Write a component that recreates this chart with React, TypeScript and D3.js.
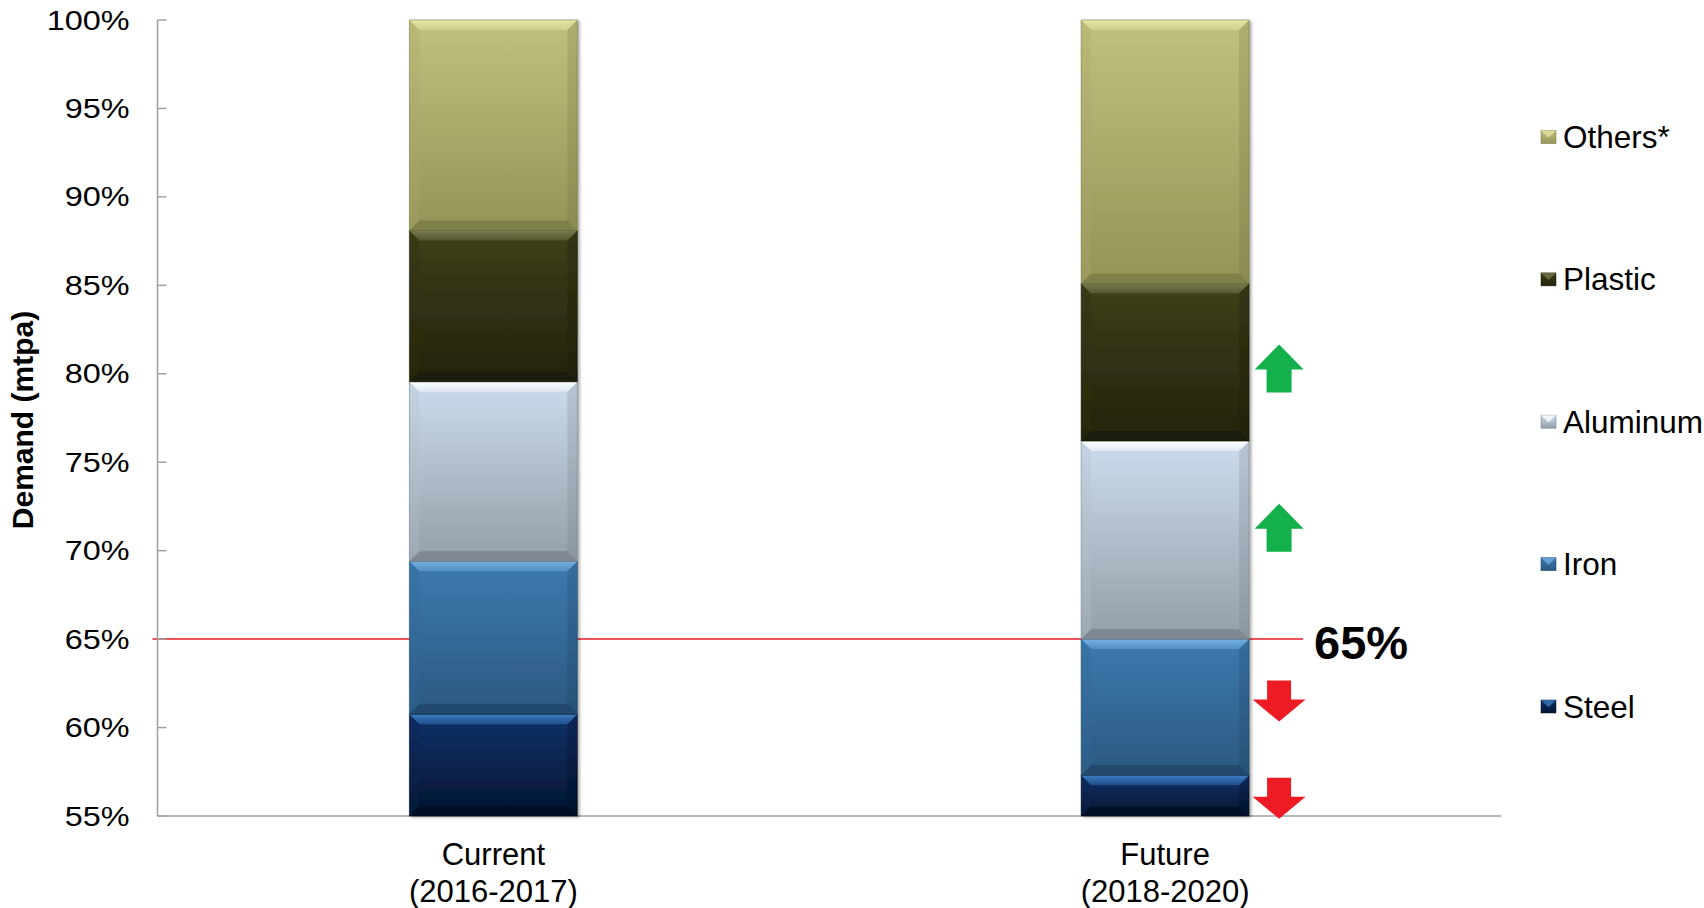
import React from "react";
import * as d3 from "d3";

// Share of demand by material, in percent of total
const categoryNames = ["Current", "Future"];
const categoryPeriods = ["(2016-2017)", "(2018-2020)"];
const seriesNames = ["Steel", "Iron", "Aluminum", "Plastic", "Others*"];
const steelShare = [60.75, 57.3];
const ironShare = [8.65, 7.7];
const aluminumShare = [10.15, 11.2];
const plasticShare = [8.55, 8.9];
const othersShare = [11.9, 14.9];
const yDomain = [55, 100];
const targetShare = 65;
const targetLabel = "65%";

// Trend arrows beside the Future bar
const trendSeries = ["Plastic", "Aluminum", "Iron", "Steel"];
const trendDirection = ["up", "up", "down", "down"];
const trendLevel = [80.3, 71.3, 61.5, 56.0];

const W = 1704;
const H = 908;
const M = { left: 157.5, right: 1501, top: 20, bottom: 816 };
const FONT = "Arial, 'Liberation Sans', Helvetica, sans-serif";

type Shade = { top: string; bottom: string; hi: string; lo: string; side: string };
const shades: Record<string, Shade> = {
  Steel: { top: "#11326a", bottom: "#031530", hi: "#3a7cc2", lo: "#020b1c", side: "#0a2550" },
  Iron: { top: "#3c7bb0", bottom: "#2b587f", hi: "#74afe2", lo: "#1c3d5c", side: "#336a98" },
  Aluminum: { top: "#ccdcec", bottom: "#939fa9", hi: "#ffffff", lo: "#6f7780", side: "#b3c1ce" },
  Plastic: { top: "#3f3f19", bottom: "#23230d", hi: "#7a7a50", lo: "#151505", side: "#333314" },
  "Others*": { top: "#c1c17e", bottom: "#939457", hi: "#e6e6a4", lo: "#6e6f3e", side: "#a9a96a" },
};
const idOf = (k: string) => "grad-" + k.replace(/[^A-Za-z]/g, "");

function BevelRect({ x, y, w, h, k, b }: { x: number; y: number; w: number; h: number; k: string; b: number }) {
  const s = shades[k];
  const e = Math.min(b, h / 2, w / 2);
  const x1 = x + w;
  const y1 = y + h;
  const pts = (a: number[][]) => a.map((p) => p.join(",")).join(" ");
  return (
    <g>
      <rect x={x} y={y} width={w} height={h} fill={`url(#${idOf(k)})`} />
      <polygon points={pts([[x, y], [x + e, y + e], [x + e, y1 - e], [x, y1]])} fill={s.side} opacity={0.3} />
      <polygon points={pts([[x1, y], [x1 - e, y + e], [x1 - e, y1 - e], [x1, y1]])} fill={s.lo} opacity={0.22} />
      <polygon points={pts([[x, y1], [x + e, y1 - e], [x1 - e, y1 - e], [x1, y1]])} fill={s.lo} opacity={0.55} />
      <polygon points={pts([[x, y], [x1, y], [x1 - e, y + e], [x + e, y + e]])} fill={`url(#${idOf(k)}-hi)`} />
      <rect x={x} y={y} width={w} height={h} fill="none" stroke={s.lo} strokeOpacity={0.5} strokeWidth={1} />
    </g>
  );
}

export default function App() {
  const rows = categoryNames.map((c, i) => ({
    cat: c,
    Steel: steelShare[i],
    Iron: ironShare[i],
    Aluminum: aluminumShare[i],
    Plastic: plasticShare[i],
    "Others*": othersShare[i],
  }));
  const layers = d3.stack<any>().keys(seriesNames)(rows);

  const x = d3
    .scaleBand<string>()
    .domain(categoryNames)
    .range([M.left, M.right])
    .paddingInner(0.75)
    .paddingOuter(0.375);
  const y = d3.scaleLinear().domain(yDomain).range([M.bottom, M.top]).clamp(true);
  const ticks = y.ticks(9);

  const legendOrder = [...seriesNames].reverse();
  const legendY = d3.scalePoint<string>().domain(legendOrder).range([137, 706.5]);

  const future = categoryNames[1];
  const futureRight = (x(future) ?? 0) + x.bandwidth();
  const lineEnd = futureRight + 54;
  const arrowCx = futureRight + 30;
  const ty = y(targetShare);

  return (
    <svg
      width={W}
      height={H}
      viewBox={`0 0 ${W} ${H}`}
      style={{ position: "absolute", left: 0, top: 0, background: "#fff" }}
      fontFamily={FONT}
    >
      <defs>
        {seriesNames.map((k) => (
          <React.Fragment key={k}>
            <linearGradient id={idOf(k)} x1="0" y1="0" x2="0" y2="1">
              <stop offset="0" stopColor={shades[k].top} />
              <stop offset="1" stopColor={shades[k].bottom} />
            </linearGradient>
            <linearGradient id={idOf(k) + "-hi"} x1="0" y1="0" x2="0" y2="1">
              <stop offset="0" stopColor={shades[k].hi} stopOpacity={1} />
              <stop offset="1" stopColor={shades[k].hi} stopOpacity={0.4} />
            </linearGradient>
          </React.Fragment>
        ))}
        <filter id="barShadow" x="-10%" y="-5%" width="125%" height="110%">
          <feDropShadow dx="2" dy="1" stdDeviation="1.6" floodColor="#000" floodOpacity="0.35" />
        </filter>
      </defs>

      {/* target line behind the bars */}
      <line x1={M.left - 5} x2={lineEnd} y1={ty} y2={ty} stroke="#ed1c24" strokeWidth={1.5} />

      {/* axes */}
      <line x1={M.left} x2={M.left} y1={M.top} y2={M.bottom} stroke="#a0a0a0" strokeWidth={1.5} />
      {ticks.map((t) => (
        <line key={t} x1={M.left} x2={M.left + 9} y1={y(t)} y2={y(t)} stroke="#a0a0a0" strokeWidth={1.5} />
      ))}
      <line x1={M.left} x2={M.right} y1={M.bottom} y2={M.bottom} stroke="#a0a0a0" strokeWidth={1.5} />

      {ticks.map((t) => (
        <text
          key={t}
          transform={`translate(129.5,${y(t)}) scale(1.2,1)`}
          textAnchor="end"
          dominantBaseline="central"
          fontSize={27}
          fill="#000"
        >
          {d3.format("d")(t) + "%"}
        </text>
      ))}

      <text
        transform={`translate(22,${(M.top + M.bottom) / 2 + 2}) rotate(-90)`}
        textAnchor="middle"
        dominantBaseline="central"
        fontSize={30}
        fontWeight="bold"
      >
        Demand (mtpa)
      </text>

      {/* stacked bars */}
      <g filter="url(#barShadow)">
        {layers.map((layer) =>
          layer.map((d, i) => {
            const cat = categoryNames[i];
            const top = y(d[1]);
            const bot = y(d[0]);
            if (bot - top <= 0) return null;
            return (
              <BevelRect
                key={layer.key + cat}
                x={x(cat)!}
                y={top}
                w={x.bandwidth()}
                h={bot - top}
                k={layer.key}
                b={10}
              />
            );
          })
        )}
      </g>

      {/* category labels */}
      {categoryNames.map((c, i) => {
        const cx = x(c)! + x.bandwidth() / 2;
        return (
          <g key={c}>
            <text x={cx} y={865} textAnchor="middle" fontSize={31}>
              {c}
            </text>
            <text x={cx} y={902} textAnchor="middle" fontSize={31}>
              {categoryPeriods[i]}
            </text>
          </g>
        );
      })}

      {/* target label */}
      <text x={lineEnd + 11} y={ty + 20} fontSize={47} fontWeight="bold">
        {targetLabel}
      </text>

      {/* trend arrows */}
      {trendSeries.map((k, i) => {
        const cy = y(trendLevel[i]);
        const up = trendDirection[i] === "up";
        const hw = up ? 24.5 : 26.5;
        const sw = up ? 12.5 : 12;
        const hh = up ? 25 : 22;
        const total = up ? 48 : 41;
        const t0 = cy - total / 2;
        const t1 = cy + total / 2;
        const c = arrowCx;
        const pts = up
          ? [[c, t0], [c + hw, t0 + hh], [c + sw, t0 + hh], [c + sw, t1], [c - sw, t1], [c - sw, t0 + hh], [c - hw, t0 + hh]]
          : [[c, t1], [c + hw, t1 - hh], [c + sw, t1 - hh], [c + sw, t0], [c - sw, t0], [c - sw, t1 - hh], [c - hw, t1 - hh]];
        return (
          <polygon
            key={k}
            points={pts.map((p) => p.join(",")).join(" ")}
            fill={up ? "#14b04c" : "#ed1c24"}
          />
        );
      })}

      {/* legend */}
      {legendOrder.map((k) => {
        const cy = legendY(k)!;
        const s = shades[k];
        const mx = 1541;
        const mw = 15;
        const mh = 13;
        const my = cy - mh / 2;
        return (
          <g key={k}>
            <rect x={mx} y={my} width={mw} height={mh} fill={`url(#${idOf(k)})`} stroke={s.lo} strokeOpacity={0.6} strokeWidth={0.8} />
            <polygon
              points={`${mx},${my} ${mx + mw},${my} ${mx + mw / 2},${my + mh * 0.55}`}
              fill={s.hi}
              opacity={0.75}
            />
            <text x={1563} y={cy} dominantBaseline="central" fontSize={31.5}>
              {k}
            </text>
          </g>
        );
      })}
    </svg>
  );
}
